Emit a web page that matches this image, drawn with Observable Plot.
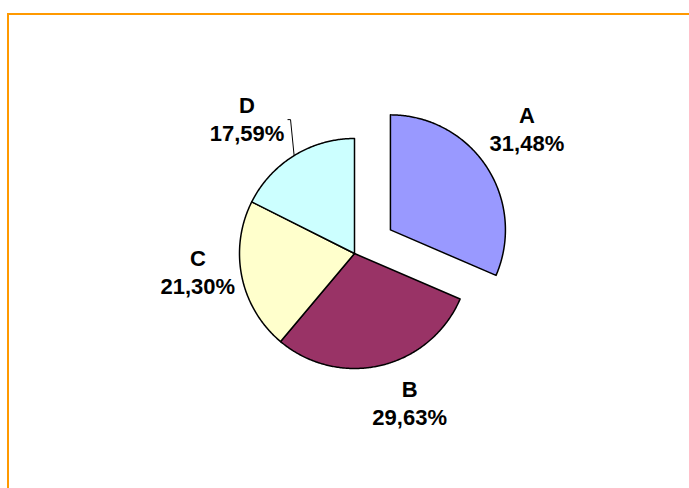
<!DOCTYPE html>
<html><head><meta charset="utf-8">
<script src="https://cdn.jsdelivr.net/npm/d3@7"></script>
<script src="https://cdn.jsdelivr.net/npm/@observablehq/plot@0.6"></script>
<style>
body{margin:0;background:#fff;}
#wrap{position:relative;width:689px;height:488px;overflow:hidden;background:#fff;}
#frame{position:absolute;left:7px;top:13px;right:-10px;bottom:-10px;border-left:2px solid #FF9900;border-top:2px solid #FF9900;}
#chart{position:absolute;left:0;top:0;}
</style></head><body>
<div id="wrap"><div id="frame"></div><div id="chart"></div></div>
<script>
const categories = ["A", "B", "C", "D"];
const values = [31.48, 29.63, 21.30, 17.59];
const colors = ["#9999FF", "#993366", "#FFFFCC", "#CCFFFF"];
const exploded = ["A"];

// layout (pixels)
const W = 689, H = 488;
const cx = 354, cy = 253, R = 115;
const explodePx = 43;
const labelR = 1.4;
const nudges = {A: [2, -13], B: [18, -8], C: [1, -15], D: [-23, 2]};

const rows = categories.map((c, i) => ({key: c, value: values[i]}));
const arcs = d3.pie().sort(null).value(d => d.value)(rows);

const polys = [], labels = [], leader = [];
arcs.forEach(a => {
  const key = a.data.key;
  const mid = (a.startAngle + a.endAngle) / 2;
  const off = exploded.includes(key) ? explodePx / R : 0;
  const ox = off * Math.sin(mid), oy = off * Math.cos(mid);
  const pts = [[ox, oy]];
  const n = Math.max(8, Math.ceil((a.endAngle - a.startAngle) / 0.01));
  for (let k = 0; k <= n; k++) {
    const t = a.startAngle + (a.endAngle - a.startAngle) * k / n;
    pts.push([ox + Math.sin(t), oy + Math.cos(t)]);
  }
  pts.push([ox, oy]);
  pts.forEach(p => polys.push({key, x: p[0], y: p[1]}));
  const [nx, ny] = nudges[key];
  labels.push({
    key,
    x: ox + labelR * Math.sin(mid) + nx / R,
    y: oy + labelR * Math.cos(mid) - ny / R,
    text: `${key}\n${a.data.value.toFixed(2).replace(".", ",")}%`
  });
  if (key === "D") {
    const ax = Math.sin(mid), ay = Math.cos(mid);
    leader.push({x: ax, y: ay});
    leader.push({x: ax - 3.6 / R, y: ay + 36 / R});
    leader.push({x: ax - 6.6 / R, y: ay + 36 / R});
  }
});

const chart = Plot.plot({
  width: W, height: H, margin: 0,
  x: {domain: [-cx / R, (W - cx) / R], range: [0, W], axis: null},
  y: {domain: [(cy - H) / R, cy / R], range: [H, 0], axis: null},
  color: {domain: categories, range: colors},
  style: {background: "transparent", overflow: "visible"},
  marks: [
    Plot.line(polys, {x: "x", y: "y", z: "key", fill: "key", stroke: "#000", strokeWidth: 1.5, strokeLinejoin: "round", curve: "linear"}),
    Plot.line(leader, {x: "x", y: "y", stroke: "#000", strokeWidth: 1, strokeLinejoin: "miter", strokeLinecap: "butt"}),
    Plot.text(labels, {x: "x", y: "y", text: "text", fill: "#000", fontFamily: "Liberation Sans, Arial, sans-serif", fontWeight: "bold", fontSize: 22, lineHeight: 1.27, lineAnchor: "middle"})
  ]
});
document.getElementById("chart").appendChild(chart);
</script>
</body></html>
